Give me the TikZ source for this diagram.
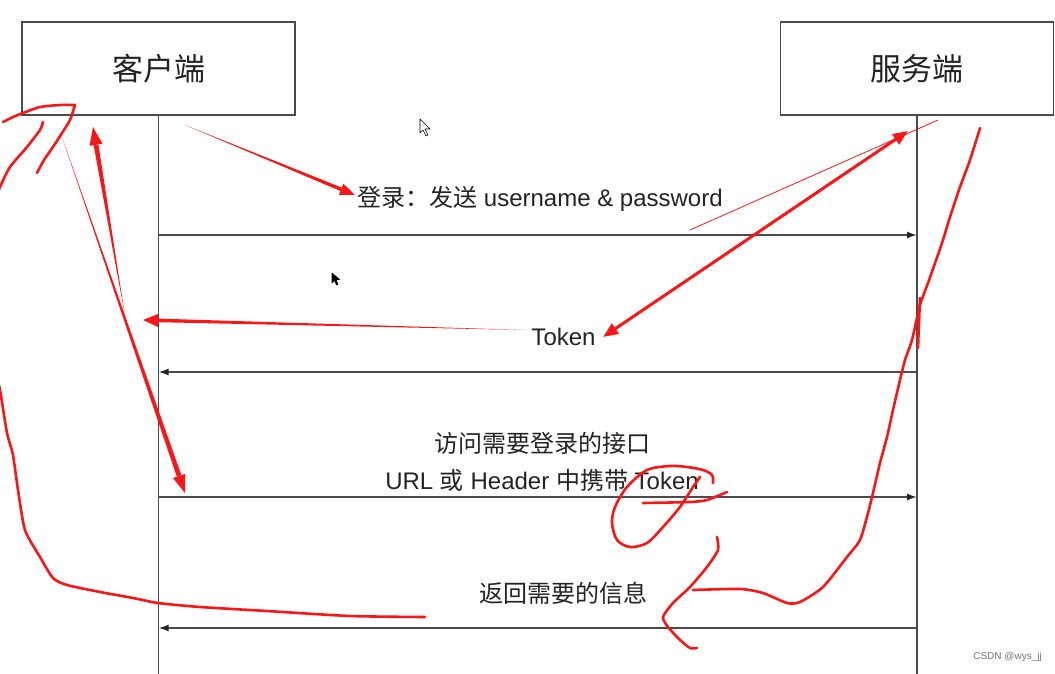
\documentclass[tikz,border=0pt]{standalone}
\usepackage{fontspec}
\setmainfont{Liberation Sans}
\newfontfamily\cjk{Noto Sans CJK SC}
\usetikzlibrary{arrows.meta,calc}
\definecolor{ink}{RGB}{75,75,75}
\definecolor{txt}{RGB}{35,35,35}
\definecolor{pencol}{RGB}{250,22,22}
% tapered hand-drawn arrow: #1 tail, #2 tip, #3 shaft half width at neck, #4 head length, #5 head half width
\newcommand\penarrow[5]{%
  \coordinate (pa-n) at ($(#2)!#4!(#1)$);
  \fill[pencol] (#1) -- ($(pa-n)!#3!90:(#1)$) -- ($(pa-n)!#3!-90:(#1)$) -- cycle;
  \fill[pencol] (#2) -- ($(pa-n)!#5!90:(#1)$) -- ($(pa-n)!#5!-90:(#1)$) -- cycle;
}
\begin{document}
\begin{tikzpicture}[x=1pt,y=-1pt,
  actor/.style={draw=ink,line width=1.7pt,minimum width=273pt,minimum height=93pt,inner sep=0pt,
    text=txt,font=\cjk\fontsize{31}{33}\selectfont},
  life/.style={draw=ink,line width=1.7pt},
  msg/.style={draw=ink,line width=1.7pt,-{Latex[length=10pt,width=7pt,fill=black!85,color=black!85]}},
  lbl/.style={font=\fontsize{24}{28}\selectfont,text=txt,inner sep=0pt,align=center},
  pen/.style={draw=pencol,line width=2.6pt,line cap=round,line join=round},
  cursor/.style={draw=black,line width=0.6pt,line join=round}
]
\useasboundingbox (0,0) rectangle (1055,674);
\clip (0,0) rectangle (1055,674);

% actors and lifelines
\node[actor] (client) at (158.5,68.5) {客户端};
\node[actor] (server) at (917,68.5) {服务端};
\coordinate (cend) at (158.5,680);
\coordinate (send) at (917,680);
\draw[life] (client.south) -- (cend);
\draw[life] (server.south) -- (send);

% messages
\coordinate (c1) at (158.5,235); \coordinate (s1) at (917,235);
\coordinate (c2) at (158.5,372); \coordinate (s2) at (917,372);
\coordinate (c3) at (158.5,497); \coordinate (s3) at (917,497);
\coordinate (c4) at (158.5,628); \coordinate (s4) at (917,628);
\draw[msg] (c1) -- (s1);
\draw[msg] (s2) -- (c2);
\draw[msg] (c3) -- (s3);
\draw[msg] (s4) -- (c4);

\node[lbl] (l1) at (540,199) {{\cjk 登录：发送} username \& password};
\node[lbl] (l2) at (563.5,337) {Token};
\node[lbl] (l3) at (542,443) {\cjk 访问需要登录的接口};
\node[lbl] (l4) at (542,480) {URL {\cjk 或} Header {\cjk 中携带} Token};
\node[lbl] (l5) at (563,593) {\cjk 返回需要的信息};

\node[font=\fontsize{10}{12}\selectfont,text=black!55,anchor=east,inner sep=0pt] (wm) at (1042,657) {CSDN @wys\_jj};

% mouse cursors
\filldraw[cursor,fill=white] (420,119) -- (420,133) -- (423,130) -- (426,136) -- (428,135) -- (425,129) -- (430,129) -- cycle;
\filldraw[cursor,fill=black] (332,273) -- (332,283) -- (334.5,280.5) -- (336.5,285) -- (338,284.3) -- (336,279.5) -- (339.5,279.5) -- cycle;

% red annotations
\penarrow{185,125}{355,195}{1.8pt}{15pt}{6pt}
\penarrow{525,330}{143,320}{1.8pt}{15pt}{6.5pt}
\penarrow{125,316}{93,127}{2.4pt}{18pt}{6.5pt}
\penarrow{62,137}{185,493}{2.4pt}{18pt}{6.5pt}
\draw[pencol,line width=3pt,{Triangle[length=15pt,width=12pt]}-{Triangle[length=15pt,width=12pt]}] (603,337) -- (908,131);
\draw[pencol,line width=0.8pt] (690,230) -- (938,120);

% hook at client box
\draw[pen] plot[smooth,tension=0.4] coordinates {(3,122) (13,117) (23,113) (40,107) (60,105) (75,105)}
  -- plot[smooth,tension=0.4] coordinates {(75,105) (70,120) (62,133) (53,147) (44,160) (37,173)};
\draw[pen] plot[smooth,tension=0.4] coordinates {(43,122) (40,130) (27,147) (10,167) (0,187) (-5,200)};
% long left curve
\draw[pen] plot[smooth,tension=0.4] coordinates {(-5,370) (0,390) (7,433) (13,455) (18,490) (25,530) (40,557) (53,578) (67,585) (100,592) (133,598) (158,603) (200,607) (267,611) (350,616) (425,617)};
% long right curve
\draw[pen] plot[smooth,tension=0.4] coordinates {(980,128) (970,160) (960,187) (950,217) (942,243) (928,283) (920,305) (912,340) (905,360) (900,380) (893,410) (887,437) (880,463) (873,493) (868,513) (860,540) (847,557) (823,587) (800,602) (787,603) (763,593) (740,589) (693,590)};
\draw[pen] (920,298) -- (918,348);
% hook near reply label
\draw[pen] plot[smooth,tension=0.4] coordinates {(717,537) (718,550) (707,567) (690,587) (673,603) (663,617) (668,627) (680,640) (690,648) (697,648)};
% loop around Token
\draw[pen] plot[smooth,tension=0.5] coordinates {(713,483) (712,475) (703,470) (687,467) (670,466) (647,470) (627,487) (615,507) (612,523) (617,540) (630,547) (647,543) (663,527) (680,507) (693,487) (700,477)};
\draw[pen] plot[smooth,tension=0.4] coordinates {(643,503) (690,502) (707,500) (727,492)};
\end{tikzpicture}
\end{document}
